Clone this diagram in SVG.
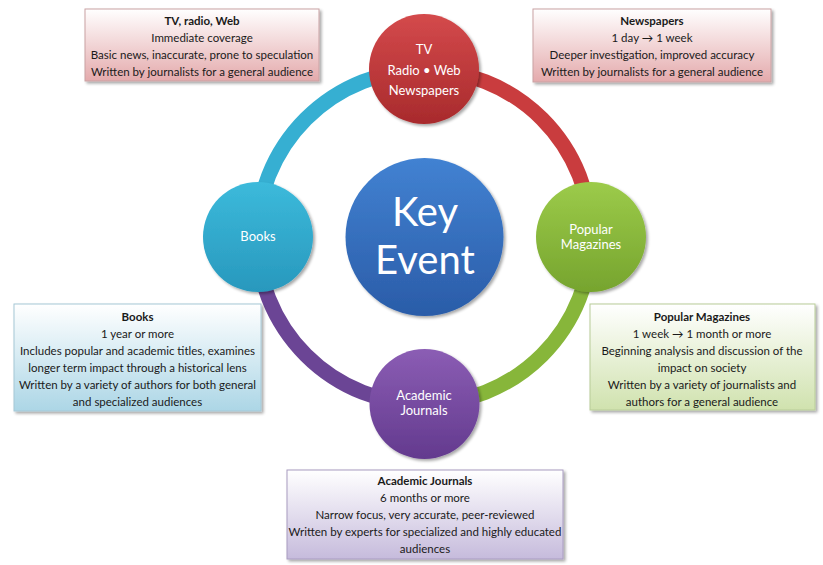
<svg xmlns="http://www.w3.org/2000/svg" width="823" height="565" viewBox="0 0 823 565">
<defs>
<style>
.bt{font-family:Lato,"Liberation Sans",sans-serif;font-size:11.5px;fill:#1a1a1a;text-anchor:middle}
.bh{font-weight:bold}
.nt{font-family:Lato,"Liberation Sans",sans-serif;font-size:13px;fill:#ffffff;text-anchor:middle}
.kt{font-family:Lato,"Liberation Sans",sans-serif;font-size:40px;fill:#ffffff;text-anchor:middle}
.arc{fill:none;stroke-width:15}
</style>
<filter id="sh" x="-10%" y="-10%" width="125%" height="130%">
<feGaussianBlur in="SourceAlpha" stdDeviation="1.5"/>
<feOffset dx="2" dy="2" result="b"/>
<feComponentTransfer><feFuncA type="linear" slope="0.35"/></feComponentTransfer>
<feMerge><feMergeNode/><feMergeNode in="SourceGraphic"/></feMerge>
</filter>
<linearGradient id="gRed" x1="0" y1="0" x2="0" y2="1"><stop offset="0" stop-color="#d44a4c"/><stop offset="1" stop-color="#a82a2c"/></linearGradient>
<linearGradient id="gCyan" x1="0" y1="0" x2="0" y2="1"><stop offset="0" stop-color="#3cbadb"/><stop offset="1" stop-color="#2898bd"/></linearGradient>
<linearGradient id="gGreen" x1="0" y1="0" x2="0" y2="1"><stop offset="0" stop-color="#9ccb4a"/><stop offset="1" stop-color="#76a42e"/></linearGradient>
<linearGradient id="gPurple" x1="0" y1="0" x2="0" y2="1"><stop offset="0" stop-color="#8b5db4"/><stop offset="1" stop-color="#633a8e"/></linearGradient>
<linearGradient id="gBlue" x1="0" y1="0" x2="0" y2="1"><stop offset="0" stop-color="#4282d2"/><stop offset="1" stop-color="#2a5ca8"/></linearGradient>
<linearGradient id="bRed" x1="0" y1="0" x2="0" y2="1"><stop offset="0" stop-color="#ffffff"/><stop offset="1" stop-color="#e4aaac"/></linearGradient>
<linearGradient id="bCyan" x1="0" y1="0" x2="0" y2="1"><stop offset="0" stop-color="#ffffff"/><stop offset="1" stop-color="#acd6e6"/></linearGradient>
<linearGradient id="bGreen" x1="0" y1="0" x2="0" y2="1"><stop offset="0" stop-color="#ffffff"/><stop offset="1" stop-color="#d0e2ae"/></linearGradient>
<linearGradient id="bPurple" x1="0" y1="0" x2="0" y2="1"><stop offset="0" stop-color="#ffffff"/><stop offset="1" stop-color="#c6bbdc"/></linearGradient>
</defs>
<rect width="823" height="565" fill="#ffffff"/>

<g id="connectors">
<path class="arc" stroke="#c93c3e" d="M424,70 A167,167 0 0 1 591,237"/>
<path class="arc" stroke="#87b63a" d="M591,237 A167,167 0 0 1 424,404"/>
<path class="arc" stroke="#6b4595" d="M424,404 A167,167 0 0 1 257,237"/>
<path class="arc" stroke="#36afd2" d="M257,237 A167,167 0 0 1 424,70"/>
</g>

<g id="key-event">
<circle cx="424.5" cy="237" r="79" fill="url(#gBlue)" filter="url(#sh)"/>
<text class="kt" x="425" y="226">Key</text>
<text class="kt" x="425" y="274">Event</text>
</g>

<g id="node-tv">
<circle cx="424" cy="69" r="55" fill="url(#gRed)" filter="url(#sh)"/>
<text class="nt" x="424" y="54">TV</text>
<text class="nt" x="424" y="75">Radio • Web</text>
<text class="nt" x="424" y="95">Newspapers</text>
</g>

<g id="node-magazines">
<circle cx="591" cy="237" r="55" fill="url(#gGreen)" filter="url(#sh)"/>
<text class="nt" x="591" y="234">Popular</text>
<text class="nt" x="591" y="249">Magazines</text>
</g>

<g id="node-journals">
<circle cx="424.5" cy="404" r="55" fill="url(#gPurple)" filter="url(#sh)"/>
<text class="nt" x="424" y="400">Academic</text>
<text class="nt" x="424" y="415">Journals</text>
</g>

<g id="node-books">
<circle cx="258" cy="237" r="55" fill="url(#gCyan)" filter="url(#sh)"/>
<text class="nt" x="258" y="241">Books</text>
</g>

<g id="box-tv">
<rect x="85" y="9" width="234" height="72" fill="url(#bRed)" stroke="#c9a2a4" stroke-width="1" filter="url(#sh)"/>
<text class="bt bh" x="202" y="25">TV, radio, Web</text>
<text class="bt" x="202" y="42">Immediate coverage</text>
<text class="bt" x="202" y="59">Basic news, inaccurate, prone to speculation</text>
<text class="bt" x="202" y="76">Written by journalists for a general audience</text>
</g>

<g id="box-newspapers">
<rect x="533" y="9" width="238" height="73" fill="url(#bRed)" stroke="#c9a2a4" stroke-width="1" filter="url(#sh)"/>
<text class="bt bh" x="652" y="25">Newspapers</text>
<text class="bt" x="652" y="42">1 day → 1 week</text>
<text class="bt" x="652" y="59">Deeper investigation, improved accuracy</text>
<text class="bt" x="652" y="76">Written by journalists for a general audience</text>
</g>

<g id="box-books">
<rect x="14" y="304" width="247" height="107" fill="url(#bCyan)" stroke="#a6c8d6" stroke-width="1" filter="url(#sh)"/>
<text class="bt bh" x="137.5" y="321">Books</text>
<text class="bt" x="137.5" y="338">1 year or more</text>
<text class="bt" x="137.5" y="355">Includes popular and academic titles, examines</text>
<text class="bt" x="137.5" y="372">longer term impact through a historical lens</text>
<text class="bt" x="137.5" y="389">Written by a variety of authors for both general</text>
<text class="bt" x="137.5" y="406">and specialized audiences</text>
</g>

<g id="box-magazines">
<rect x="590" y="304" width="225" height="106" fill="url(#bGreen)" stroke="#b8cc98" stroke-width="1" filter="url(#sh)"/>
<text class="bt bh" x="702" y="321">Popular Magazines</text>
<text class="bt" x="702" y="338">1 week → 1 month or more</text>
<text class="bt" x="702" y="355">Beginning analysis and discussion of the</text>
<text class="bt" x="702" y="372">impact on society</text>
<text class="bt" x="702" y="389">Written by a variety of journalists and</text>
<text class="bt" x="702" y="406">authors for a general audience</text>
</g>

<g id="box-journals">
<rect x="287" y="470" width="276" height="89" fill="url(#bPurple)" stroke="#a89cc0" stroke-width="1" filter="url(#sh)"/>
<text class="bt bh" x="425" y="485">Academic Journals</text>
<text class="bt" x="425" y="502">6 months or more</text>
<text class="bt" x="425" y="519">Narrow focus, very accurate, peer-reviewed</text>
<text class="bt" x="425" y="536">Written by experts for specialized and highly educated</text>
<text class="bt" x="425" y="553">audiences</text>
</g>
</svg>
